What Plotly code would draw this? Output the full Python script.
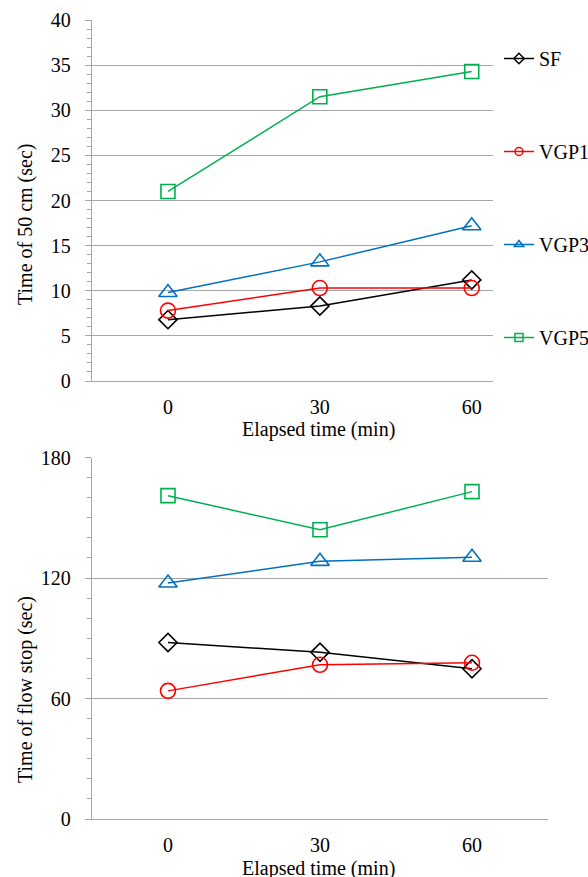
import plotly.graph_objects as go

# ---- data ----
categories = ["0", "30", "60"]
series_names = ["SF", "VGP1", "VGP3", "VGP5"]
time_50cm = {
    "SF":   [6.8, 8.3, 11.2],
    "VGP1": [7.8, 10.3, 10.3],
    "VGP3": [9.8, 13.2, 17.2],
    "VGP5": [21.0, 31.5, 34.3],
}
time_flow_stop = {
    "SF":   [87.9, 83.0, 74.8],
    "VGP1": [63.8, 76.8, 77.8],
    "VGP3": [117.5, 128.3, 130.3],
    "VGP5": [161.0, 144.0, 163.0],
}

colors = {"SF": "#000000", "VGP1": "#ff0000", "VGP3": "#0070c0", "VGP5": "#00b050"}
symbols = {"SF": "diamond-open", "VGP1": "circle-open",
           "VGP3": "triangle-up-open", "VGP5": "square-open"}
msize = {"SF": 14, "VGP1": 15, "VGP3": 16, "VGP5": 14}

W, H = 588, 877
FONT = "Liberation Serif"
GRID = "#a6a6a6"


def px(x):
    return x / W


def py(y):
    return 1 - y / H


fig = go.Figure()

for name in series_names:
    fig.add_trace(go.Scatter(
        x=categories, y=time_50cm[name], mode="lines+markers",
        line=dict(color=colors[name], width=1.5),
        marker=dict(symbol=symbols[name], size=msize[name], color=colors[name],
                    line=dict(width=1.6, color=colors[name])),
        xaxis="x", yaxis="y", showlegend=False, legendgroup=name))
    fig.add_trace(go.Scatter(
        x=categories, y=time_flow_stop[name], mode="lines+markers",
        line=dict(color=colors[name], width=1.5),
        marker=dict(symbol=symbols[name], size=msize[name], color=colors[name],
                    line=dict(width=1.6, color=colors[name])),
        xaxis="x2", yaxis="y2", showlegend=False, legendgroup=name))
    fig.add_trace(go.Scatter(
        x=[None], y=[None], mode="lines+markers", name=name,
        line=dict(color=colors[name], width=1.5),
        marker=dict(symbol=symbols[name], size=8, color=colors[name],
                    line=dict(width=1.5, color=colors[name])),
        xaxis="x", yaxis="y", showlegend=True, legendgroup=name))

common_x = dict(type="category", showgrid=False, ticks="", showline=True,
                linecolor=GRID, linewidth=1.3, automargin=False,
                zeroline=False, tickfont=dict(size=20, family=FONT, color="black"),
                ticklabelstandoff=8)
common_y = dict(showgrid=True, gridcolor=GRID, gridwidth=1.3, zeroline=False,
                showline=True, linecolor=GRID, linewidth=1.3, automargin=False,
                ticks="outside", ticklen=6, tickwidth=1.3, tickcolor=GRID,
                tickfont=dict(size=20, family=FONT, color="black"),
                ticklabelstandoff=10)

fig.update_layout(
    width=W, height=H,
    margin=dict(l=0, r=0, t=0, b=0, autoexpand=False),
    paper_bgcolor="white", plot_bgcolor="white",
    font=dict(family=FONT, size=20, color="black"),
    xaxis=dict(domain=[px(92), px(493)], anchor="y", range=[-0.5, 2.14], **common_x),
    yaxis=dict(domain=[py(381), py(20)], anchor="x", range=[0, 40], dtick=5,
               minor=dict(dtick=1, ticks="outside", ticklen=4, tickcolor=GRID, showgrid=False),
               **common_y),
    xaxis2=dict(domain=[px(92), px(548)], anchor="y2", range=[-0.5, 2.5], **common_x),
    yaxis2=dict(domain=[py(819), py(457.5)], anchor="x2", range=[0, 180], dtick=60,
                minor=dict(dtick=10, ticks="outside", ticklen=4, tickcolor=GRID, showgrid=False),
                **common_y),
    legend=dict(x=px(499), y=py(39), xanchor="left", yanchor="top",
                font=dict(size=20, family=FONT, color="black"),
                tracegroupgap=64, bgcolor="rgba(0,0,0,0)", itemwidth=30),
    showlegend=True,
)

annos = [
    dict(text="Time of 50 cm (sec)", x=px(25), y=py(225), textangle=-90),
    dict(text="Time of flow stop (sec)", x=px(25), y=py(690), textangle=-90),
    dict(text="Elapsed time (min)", x=px(318), y=py(430)),
    dict(text="Elapsed time (min)", x=px(318), y=py(868)),
]
for a in annos:
    fig.add_annotation(xref="paper", yref="paper", showarrow=False,
                       xanchor="center", yanchor="middle",
                       font=dict(size=20, family=FONT, color="black"), **a)

fig.write_html("out.html", config={"displayModeBar": False},
               post_script="document.body.style.margin='0px';document.body.style.overflow='hidden';")
